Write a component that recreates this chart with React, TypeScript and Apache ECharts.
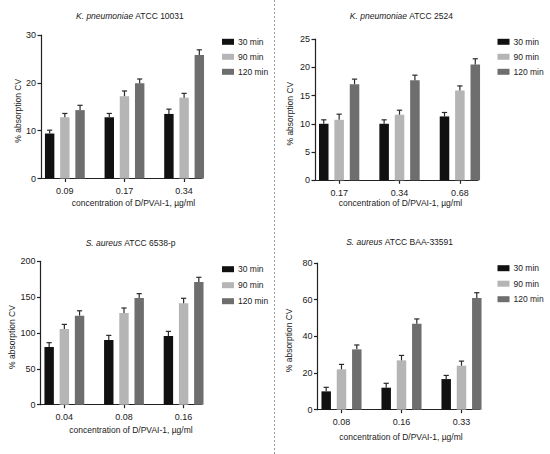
import React, { useEffect, useRef } from "react";
import * as echarts from "echarts";

// ---------- data ----------
const seriesNames = ["30 min", "90 min", "120 min"];

// Panel 1: K. pneumoniae ATCC 10031
const p1Categories = ["0.09", "0.17", "0.34"];
const p1Mean30 = [9.4, 12.8, 13.5];
const p1Mean90 = [12.8, 17.2, 16.9];
const p1Mean120 = [14.3, 19.9, 25.8];
const p1Err30 = [0.7, 0.8, 1.0];
const p1Err90 = [0.8, 1.1, 0.9];
const p1Err120 = [1.0, 0.9, 1.1];
const p1YTicks = { max: 30, interval: 10 };

// Panel 2: K. pneumoniae ATCC 2524
const p2Categories = ["0.17", "0.34", "0.68"];
const p2Mean30 = [10.0, 10.0, 11.3];
const p2Mean90 = [10.7, 11.6, 15.9];
const p2Mean120 = [17.0, 17.7, 20.5];
const p2Err30 = [0.7, 0.7, 0.7];
const p2Err90 = [1.0, 0.8, 0.8];
const p2Err120 = [0.9, 0.9, 1.0];
const p2YTicks = { max: 25, interval: 5 };

// Panel 3: S. aureus ATCC 6538-p
const p3Categories = ["0.04", "0.08", "0.16"];
const p3Mean30 = [80.5, 90.2, 95.8];
const p3Mean90 = [105.6, 127.9, 141.4];
const p3Mean120 = [124.2, 148.8, 171.2];
const p3Err30 = [6.0, 6.5, 6.5];
const p3Err90 = [6.4, 7.0, 7.0];
const p3Err120 = [6.8, 6.1, 6.5];
const p3YTicks = { max: 200, interval: 50 };

// Panel 4: S. aureus ATCC BAA-33591
const p4Categories = ["0.08", "0.16", "0.33"];
const p4Mean30 = [10.0, 12.0, 16.7];
const p4Mean90 = [22.0, 26.9, 24.0];
const p4Mean120 = [32.9, 46.9, 60.9];
const p4Err30 = [2.2, 2.4, 2.0];
const p4Err90 = [2.7, 2.7, 2.5];
const p4Err120 = [2.4, 2.6, 2.9];
const p4YTicks = { max: 80, interval: 20 };

const titles = [
  ["K. pneumoniae", " ATCC 10031"],
  ["K. pneumoniae", " ATCC 2524"],
  ["S. aureus", " ATCC 6538-p"],
  ["S. aureus", " ATCC BAA-33591"],
];
const xAxisName = "concentration of D/PVAI-1, µg/ml";
const yAxisName = "% absorption CV";

// ---------- layout / style ----------
const FONT = "'Liberation Sans', Arial, sans-serif";
const TEXT = "#1a1a1a";
const COLORS = ["#111111", "#b5b5b5", "#6e6e6e"];
const ERR_COLOR = "#2a2a2a";

const layouts = [
  { grid: { left: 41, top: 35, width: 161, height: 143.5 }, title: [130, 16], legend: [222, 37.3, 6], yGap: 17, xGap: 20, xShift: 12 },
  { grid: { left: 315, top: 39, width: 163, height: 141.3 }, title: [401.5, 16], legend: [497.5, 37.3, 6], yGap: 21, xGap: 18.5, xShift: 4 },
  { grid: { left: 40.5, top: 261.3, width: 161, height: 143.4 }, title: [130.7, 243], legend: [222, 264.7, 7], yGap: 23.5, xGap: 21, xShift: 10 },
  { grid: { left: 317.5, top: 263, width: 162, height: 146.7 }, title: [399.7, 242], legend: [497.5, 263.7, 6.5], yGap: 24, xGap: 22.5, xShift: 2.5 },
];

const panelData = [
  { cats: p1Categories, means: [p1Mean30, p1Mean90, p1Mean120], errs: [p1Err30, p1Err90, p1Err120], y: p1YTicks },
  { cats: p2Categories, means: [p2Mean30, p2Mean90, p2Mean120], errs: [p2Err30, p2Err90, p2Err120], y: p2YTicks },
  { cats: p3Categories, means: [p3Mean30, p3Mean90, p3Mean120], errs: [p3Err30, p3Err90, p3Err120], y: p3YTicks },
  { cats: p4Categories, means: [p4Mean30, p4Mean90, p4Mean120], errs: [p4Err30, p4Err90, p4Err120], y: p4YTicks },
];

function makeRenderItem(s: number) {
  return (params: any, api: any) => {
    const x = api.value(0);
    const v = api.value(1);
    const e = api.value(2);
    const unit = api.size([1, 0])[0];
    const base = api.coord([x, 0]);
    const top = api.coord([x, v]);
    const errTop = api.coord([x, v + e]);
    const cx = base[0] + (s - 1) * unit * 0.255;
    const w = unit * 0.158;
    const capW = w * 0.55;
    return {
      type: "group",
      children: [
        { type: "rect", shape: { x: cx - w / 2, y: top[1], width: w, height: base[1] - top[1] }, style: { fill: api.visual("color") } },
        { type: "line", shape: { x1: cx, y1: top[1], x2: cx, y2: errTop[1] }, style: { stroke: ERR_COLOR, lineWidth: 1.2 } },
        { type: "line", shape: { x1: cx - capW / 2, y1: errTop[1], x2: cx + capW / 2, y2: errTop[1] }, style: { stroke: ERR_COLOR, lineWidth: 1.2 } },
      ],
    };
  };
}

function buildOption() {
  const axisLine = { show: true, onZero: false, lineStyle: { color: "#222", width: 1.2 } };
  const grid: any[] = [];
  const xAxis: any[] = [];
  const yAxis: any[] = [];
  const legend: any[] = [];
  const series: any[] = [];
  const graphic: any[] = [];

  panelData.forEach((pd, p) => {
    const L = layouts[p];
    grid.push({ ...L.grid, containLabel: false });
    const idxs = pd.cats.map((_, i) => i);
    xAxis.push({
      type: "value",
      gridIndex: p,
      min: -0.4,
      max: 2.3,
      axisLine,
      axisTick: { show: true, customValues: idxs, length: 3.5, lineStyle: { color: "#222", width: 1.2 } },
      axisLabel: {
        customValues: idxs,
        formatter: (val: number) => pd.cats[Math.round(val)] ?? "",
        margin: 8,
        fontSize: 9,
        color: TEXT,
        fontFamily: FONT,
      },
      splitLine: { show: false },
      name: xAxisName,
      nameLocation: "middle",
      nameGap: L.xGap,
      nameTextStyle: { fontSize: 8.5, color: TEXT, fontFamily: FONT, padding: [0, 0, 0, L.xShift * 2] },
    });
    yAxis.push({
      type: "value",
      gridIndex: p,
      min: 0,
      max: pd.y.max,
      interval: pd.y.interval,
      axisLine,
      axisTick: { show: true, length: 3.5, lineStyle: { color: "#222", width: 1.2 } },
      axisLabel: { fontSize: 9, color: TEXT, margin: 5, fontFamily: FONT },
      splitLine: { show: false },
      name: yAxisName,
      nameLocation: "middle",
      nameGap: L.yGap,
      nameTextStyle: { fontSize: 8.5, color: TEXT, fontFamily: FONT, padding: [0, 0, 0, -8] },
    });
    legend.push({
      data: seriesNames,
      orient: "vertical",
      left: L.legend[0],
      top: L.legend[1],
      itemWidth: 12,
      itemHeight: 6,
      itemGap: L.legend[2],
      icon: "rect",
      padding: 0,
      textStyle: { fontSize: 8.5, color: TEXT, fontFamily: FONT, padding: [0, 0, 0, -1] },
      selectedMode: false,
    });
    seriesNames.forEach((name, s) => {
      series.push({
        type: "custom",
        name,
        xAxisIndex: p,
        yAxisIndex: p,
        itemStyle: { color: COLORS[s] },
        encode: { x: 0, y: 1 },
        data: pd.means[s].map((v, i) => [i, v, pd.errs[s][i]]),
        renderItem: makeRenderItem(s),
        clip: false,
      });
    });
    graphic.push({
      type: "text",
      x: L.title[0],
      y: L.title[1],
      style: {
        text: `{i|${titles[p][0]}}${titles[p][1]}`,
        align: "center",
        verticalAlign: "middle",
        fontSize: 8.5,
        fontFamily: FONT,
        fill: TEXT,
        rich: { i: { fontStyle: "italic", fontSize: 8.5, fontFamily: FONT, color: TEXT } },
      },
    });
  });

  graphic.push({
    type: "line",
    shape: { x1: 274.5, y1: 0, x2: 274.5, y2: 454 },
    style: { stroke: "#9a9a9a", lineWidth: 1, lineDash: [2, 2] },
  });

  return {
    animation: false,
    backgroundColor: "#ffffff",
    textStyle: { fontFamily: FONT },
    grid,
    xAxis,
    yAxis,
    legend,
    series,
    graphic,
  };
}

export default function App() {
  const ref = useRef<HTMLDivElement>(null);
  useEffect(() => {
    if (!ref.current) return;
    const chart = echarts.init(ref.current, undefined, { renderer: "svg" });
    chart.setOption(buildOption() as any);
    return () => chart.dispose();
  }, []);
  return <div ref={ref} style={{ position: "fixed", left: 0, top: 0, width: 550, height: 454 }} />;
}
